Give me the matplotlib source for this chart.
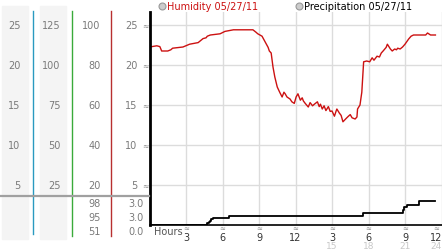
"""
Humidity / precipitation day chart, 05/27/11.
Left side carries the stacked scale columns, the plot is on the right.
"""

import matplotlib
matplotlib.use("Agg")
import matplotlib.pyplot as plt
from matplotlib.patches import Rectangle
from matplotlib.lines import Line2D
from matplotlib.transforms import blended_transform_factory

# humidity trace (hours, value)
hum_hours = [0.0, 0.6, 0.85, 1.0, 1.5, 1.75, 1.9, 2.75, 3.3, 4.0, 4.4, 4.65, 4.75,
             5.0, 5.8, 6.2, 6.9, 8.5, 8.75, 8.9, 9.25, 9.5, 9.75, 9.85, 10.0,
             10.15, 10.3, 10.5, 10.7, 10.9, 11.05, 11.15, 11.3, 11.55, 11.7, 11.9,
             12.05, 12.2, 12.4, 12.55, 12.65, 12.8, 13.05, 13.2, 13.4, 13.55, 13.8,
             13.95, 14.05, 14.2, 14.35, 14.5, 14.7, 14.85, 15.0, 15.2, 15.35, 15.4,
             15.6, 15.75, 15.9, 16.15, 16.35, 16.5, 16.65, 16.9, 17.05, 17.1, 17.3,
             17.45, 17.6, 17.85, 18.1, 18.3, 18.45, 18.7, 18.9, 19.05, 19.2, 19.45,
             19.55, 19.8, 19.95, 20.15, 20.3, 20.4, 20.6, 20.8, 21.0, 21.3, 21.5,
             21.7, 22.7, 22.85, 23.1, 23.5]
hum_values = [22.25, 22.4, 22.3, 21.75, 21.75, 21.9, 22.1, 22.25, 22.6, 22.8, 23.3,
              23.4, 23.6, 23.75, 23.9, 24.2, 24.4, 24.4, 24.1, 23.9, 23.6, 22.9,
              22.2, 21.75, 21.5, 19.75, 18.5, 17.25, 16.6, 16.0, 16.6, 16.4, 16.0,
              15.75, 15.4, 15.2, 16.0, 16.4, 15.6, 15.9, 15.5, 15.2, 14.75, 15.3,
              14.9, 15.1, 15.4, 14.8, 15.1, 14.5, 14.9, 14.3, 14.8, 14.2, 14.25,
              13.6, 14.3, 14.5, 14.0, 13.7, 12.9, 13.3, 13.6, 13.8, 13.4, 13.25,
              13.5, 14.5, 15.0, 16.6, 20.4, 20.5, 20.4, 20.9, 20.6, 21.1, 21.0,
              21.5, 21.75, 22.2, 22.6, 22.0, 21.75, 22.0, 21.9, 22.1, 22.0, 22.25,
              22.6, 23.25, 23.6, 23.75, 23.75, 24.0, 23.75, 23.75]

# accumulated precipitation (hours, inches)
rain_hours = [0.0, 4.65, 4.75, 4.9, 5.0, 5.05, 5.25, 6.45, 6.55, 17.5, 17.55,
              20.6, 20.8, 20.95, 21.2, 22.1, 22.15, 23.5]
rain_values = [0.0, 0.0, 0.015, 0.03, 0.04, 0.055, 0.07, 0.07, 0.093, 0.093, 0.117,
               0.117, 0.15, 0.177, 0.203, 0.203, 0.237, 0.237]

# scale columns on the left
col1_labels = ["25", "20", "15", "10", "5"]
col2_labels = ["125", "100", "75", "50", "25"]
col3_labels = ["100", "80", "60", "40", "20"]
col4_labels = ["25", "20", "15", "10", "5"]
label_levels = [25, 20, 15, 10, 5]
rain_col3 = ["98", "95", "51"]
rain_col4 = ["3.0", "3.0", "0.0"]

hour_ticks = [3, 6, 9, 12, 15, 18, 21, 24]
hour_labels = ["3", "6", "9", "12", "3", "6", "9", "12"]
hour_labels2 = ["", "", "", "", "15", "18", "21", "24"]

W, H = 442, 253


def fx(x):
    return x / W


def fy(y):
    return 1 - y / H


fig = plt.figure(figsize=(W / 100, H / 100), dpi=100)
plt.rcParams.update({"font.family": "DejaVu Sans"})

ax = fig.add_axes([fx(149.5), fy(226), fx(441.5) - fx(149.5), fy(13) - fy(226)])
ax.set_xlim(0, 24)
ax.set_ylim(0, 26.625)
ax.set_xticks(hour_ticks)
ax.set_yticks(label_levels)
ax.grid(True, color="#dcdcdc", lw=1)
ax.tick_params(length=0, labelbottom=False, labelleft=False)
for s in ["top", "right"]:
    ax.spines[s].set_visible(False)
ax.spines["left"].set_linewidth(2)
ax.spines["bottom"].set_linewidth(1.2)
ax.plot(hum_hours, hum_values, color="#cc1111", lw=1)

ax2 = ax.twinx()
ax2.set_ylim(0, 2.13)
ax2.axis("off")
ax2.plot(rain_hours, rain_values, color="black", lw=1.3, drawstyle="steps-post")

# left scale panels
fig.add_artist(Rectangle((fx(2), fy(240)), fx(26), fy(7) - fy(240),
                         transform=fig.transFigure, color="#f4f4f4", zorder=0))
fig.add_artist(Rectangle((fx(40), fy(240)), fx(26), fy(7) - fy(240),
                         transform=fig.transFigure, color="#f4f4f4", zorder=0))
for x, c, y1 in [(33, "#2a9ac0", 235), (72, "#3aaa3a", 237), (111, "#b83030", 237)]:
    fig.add_artist(Line2D([fx(x), fx(x)], [fy(12), fy(y1)],
                          transform=fig.transFigure, color=c, lw=1))
fig.add_artist(Line2D([0, fx(149)], [fy(197), fy(197)],
                      transform=fig.transFigure, color="#a0a0a0", lw=1.6))

tr = blended_transform_factory(fig.transFigure, ax.transData)
grey = "#7a7a7a"
for lev, a, b, c, d in zip(label_levels, col1_labels, col2_labels, col3_labels, col4_labels):
    fig.text(fx(20.5), lev, a, transform=tr, ha="right", va="center", fontsize=7, color=grey)
    fig.text(fx(60.5), lev, b, transform=tr, ha="right", va="center", fontsize=7, color=grey)
    fig.text(fx(100.5), lev, c, transform=tr, ha="right", va="center", fontsize=7, color=grey)
    fig.text(fx(137.5), lev, d, transform=tr, ha="right", va="center", fontsize=7, color=grey)
    fig.text(fx(145), lev, "≈", transform=tr, ha="center", va="center", fontsize=5.5, color="#8a8a8a")

for y, c, d in zip([204, 218, 232], rain_col3, rain_col4):
    fig.text(fx(100.5), fy(y), c, ha="right", va="center", fontsize=7, color=grey)
    fig.text(fx(144), fy(y), d, ha="right", va="center", fontsize=7, color=grey)

# hour axis labels
trx = blended_transform_factory(ax.transData, fig.transFigure)
for h, l1, l2 in zip(hour_ticks, hour_labels, hour_labels2):
    xh = min(h, 23.55)
    fig.text(xh, fy(229), "≈", transform=trx, ha="center", va="center", fontsize=5, color="#8a8a8a")
    fig.text(xh, fy(238.5), l1, transform=trx, ha="center", va="center", fontsize=7, color="#333333")
    if l2:
        fig.text(xh, fy(247), l2, transform=trx, ha="center", va="center", fontsize=6.5, color="#c8c8c8")
fig.text(fx(154), fy(232.5), "Hours", ha="left", va="center", fontsize=7, color="#555555")

# legend on top
for x, txt, col in [(162, "Humidity 05/27/11", "#cc1111"),
                    (299, "Precipitation 05/27/11", "black")]:
    fig.add_artist(Line2D([fx(x)], [fy(7)], transform=fig.transFigure, marker="o",
                          markersize=5, markerfacecolor="#cccccc",
                          markeredgecolor="#999999", markeredgewidth=0.8, lw=0))
    fig.text(fx(x + 5), fy(7), txt, ha="left", va="center", fontsize=7, color=col)

fig.savefig("out.png", dpi=100)
